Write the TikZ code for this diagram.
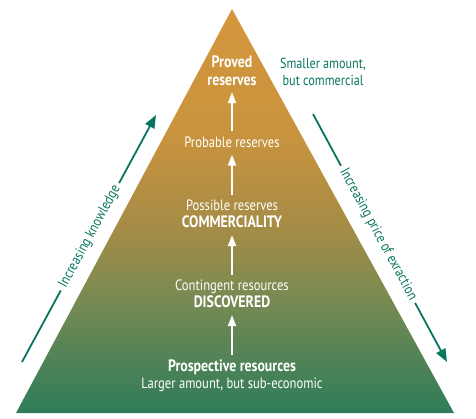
\documentclass[tikz,border=0pt]{standalone}
\usepackage{fontspec}
\setmainfont[FakeStretch=0.84]{PT Sans}
\usetikzlibrary{arrows.meta,calc}
\definecolor{tealc}{RGB}{8,117,96}
\definecolor{gA}{RGB}{46,124,90}
\definecolor{gB}{RGB}{120,138,82}
\definecolor{gC}{RGB}{165,140,70}
\definecolor{oA}{RGB}{200,147,62}
\definecolor{oB}{RGB}{212,150,60}
\pgfdeclareverticalshading{pyr}{100bp}{color(0bp)=(gA); color(25bp)=(gA); color(39bp)=(gB); color(48bp)=(gC); color(59bp)=(oA); color(75bp)=(oB); color(100bp)=(oB)}
\newcommand{\bigb}[1]{{\fontsize{16.5}{17}\selectfont\bfseries #1}}
\begin{document}
\begin{tikzpicture}[x=1pt,y=-1pt,
  main/.style={text=white, align=center, font=\fontsize{15}{17}\selectfont, inner sep=5pt},
  tealtext/.style={text=tealc, align=center, font=\fontsize{14.5}{17}\selectfont, inner sep=1pt},
  wup/.style={draw=white, line width=1.8pt, -{Triangle[width=8pt,length=11pt]}, shorten >=2pt},
  side/.style={draw=tealc, line width=1.8pt},
  sidehead/.style={side, -{Triangle[width=10pt,length=13pt]}}]
\useasboundingbox (0,0) rectangle (476,419);
\shade[shading=pyr] (16,413) -- (232,9) -- (454,413) -- cycle;
\node[main, font=\fontsize{16.5}{18}\selectfont\bfseries, inner sep=4pt] (proved) at (232,71) {Proved\\reserves};
\node[main] (probable) at (232,142) {Probable reserves};
\node[main] (possible) at (232,214) {Possible reserves\\\bigb{COMMERCIALITY}};
\node[main] (contingent) at (232,294) {Contingent resources\\\bigb{DISCOVERED}};
\node[main] (prospective) at (232,376) {\bigb{Prospective resources}\\Larger amount, but sub-economic};
\node[tealtext] (smaller) at (323,72) {Smaller amount,\\but commercial};
\draw[wup] (probable.north) -- (proved.south);
\draw[wup] (possible.north) -- (probable.south);
\draw[wup] (contingent.north) -- (possible.south);
\draw[wup] (prospective.north) -- (contingent.south);
% left
\coordinate (kL1) at (22,362);
\coordinate (kL2) at (156,115);
\node[tealtext, rotate=61.5, inner sep=4pt] (know) at ($(kL1)!0.507!(kL2)$) {Increasing knowledge};
\draw[side] (kL1) -- (know.west);
\draw[sidehead] (know.east) -- (kL2);
% right
\coordinate (kR1) at (313,114);
\coordinate (kR2) at (447,362);
\node[tealtext, rotate=-61.6, inner sep=4pt] (price) at ($(kR1)!0.485!(kR2)$) {Increasing price of exraction};
\draw[side] (kR1) -- (price.west);
\draw[sidehead] (price.east) -- (kR2);
\end{tikzpicture}
\end{document}
